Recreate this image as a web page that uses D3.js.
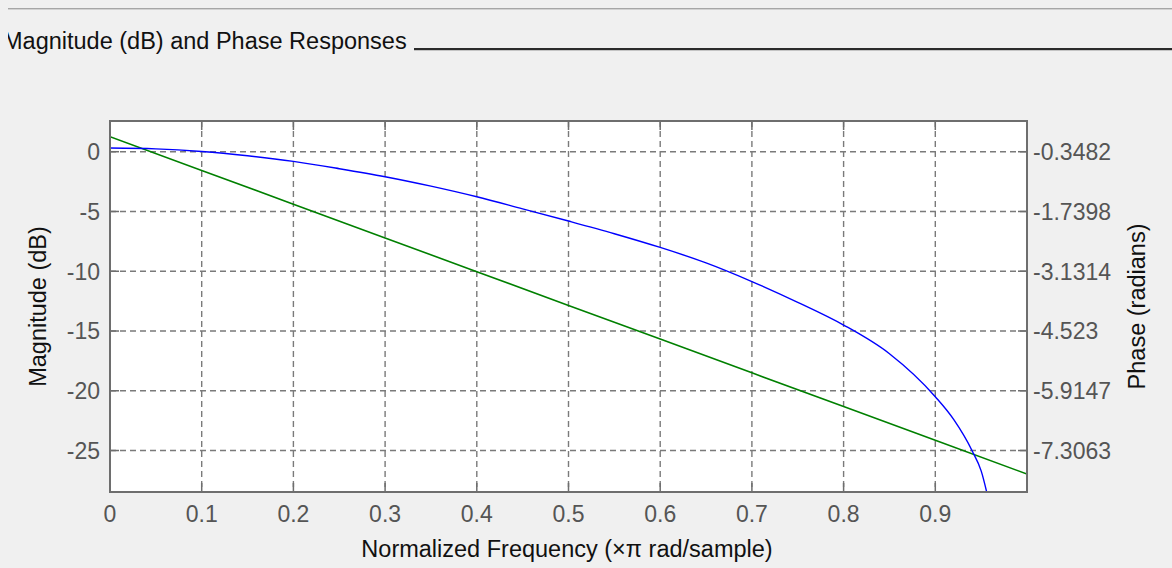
<!DOCTYPE html>
<html lang="en">
  <head>
    <meta charset="utf-8">
    <title>Magnitude (dB) and Phase Responses</title>
    <script src="https://cdn.jsdelivr.net/npm/d3@7/dist/d3.min.js"></script>
    <style>
      body { margin: 0; background: #f0f0f0; }
      text { font-family: "Liberation Sans", Arial, sans-serif; }
    </style>
  </head>
  <body>
    <script>

      // frequency points (x pi rad/sample) and magnitude in dB
      var magFreq = [0, 0.05, 0.1, 0.15, 0.2, 0.25, 0.3, 0.35, 0.4, 0.45, 0.5, 0.55, 0.6, 0.65, 0.7, 0.75, 0.8, 0.85, 0.9, 0.92, 0.94, 0.95, 0.96]
      var magDb   = [0.31, 0.24, 0.02, -0.34, -0.81, -1.42, -2.09, -2.88, -3.77, -4.78, -5.8, -6.86, -8.01, -9.3, -10.86, -12.6, -14.5, -16.9, -20.5, -22.4, -25.0, -26.7, -29.8]

      // phase in radians
      var phaseFreq = [0, 0.1, 0.2, 0.3, 0.4, 0.5, 0.6, 0.7, 0.8, 0.9, 1.0]
      var phaseRad  = [0, -0.785, -1.571, -2.356, -3.142, -3.927, -4.712, -5.498, -6.283, -7.069, -7.854]

      var freqTicks  = [0, 0.1, 0.2, 0.3, 0.4, 0.5, 0.6, 0.7, 0.8, 0.9]
      var magTicks   = [0, -5, -10, -15, -20, -25]
      var phaseTicks = [-0.3482, -1.7398, -3.1314, -4.523, -5.9147, -7.3063]

      var W = 1172, H = 568
      var pL = 110, pR = 1027, pT = 121, pB = 492

      var svg = d3.select("body").append("svg")
                  .attr("width", W)
                  .attr("height", H)

      svg.append("rect").attr("width", W).attr("height", H).attr("fill", "#f0f0f0")

      // panel frame line at the top
      svg.append("line").attr("x1", 8).attr("x2", W).attr("y1", 8.5).attr("y2", 8.5)
         .attr("stroke", "#a6a6a6").attr("stroke-width", 1)
      svg.append("line").attr("x1", 8).attr("x2", W).attr("y1", 9.5).attr("y2", 9.5)
         .attr("stroke", "#d2d2d2").attr("stroke-width", 1)

      // title, clipped on the left like the panel
      svg.append("clipPath").attr("id", "panelclip")
         .append("rect").attr("x", 8).attr("y", 0).attr("width", W).attr("height", H)
      svg.append("text")
         .attr("clip-path", "url(#panelclip)")
         .attr("x", 3).attr("y", 48.5)
         .attr("font-size", 23.5)
         .attr("fill", "#111")
         .text("Magnitude (dB) and Phase Responses")
      svg.append("line").attr("x1", 414).attr("x2", W).attr("y1", 49).attr("y2", 49)
         .attr("stroke", "#2b2b2b").attr("stroke-width", 2)
      svg.append("line").attr("x1", 414).attr("x2", W).attr("y1", 50.5).attr("y2", 50.5)
         .attr("stroke", "#c4c4c4").attr("stroke-width", 1)

      var x = d3.scaleLinear().domain([0, 1]).range([pL, pR])
      var yMag = d3.scaleLinear().domain([-28.47, 2.57]).range([pB, pT])
      var yPhase = d3.scaleLinear().domain([-8.272, 0.367]).range([pB, pT])

      svg.append("rect")
         .attr("x", pL).attr("y", pT)
         .attr("width", pR - pL).attr("height", pB - pT)
         .attr("fill", "#ffffff")

      // dashed grid
      var grid = svg.append("g").attr("stroke", "#7a7a7a").attr("stroke-width", 1.4)
                    .attr("stroke-dasharray", "6,4")
      grid.selectAll(".vg").data(freqTicks.slice(1)).enter().append("line")
          .attr("x1", function(d) { return x(d) }).attr("x2", function(d) { return x(d) })
          .attr("y1", pT).attr("y2", pB)
      grid.selectAll(".hg").data(magTicks).enter().append("line")
          .attr("y1", function(d) { return yMag(d) }).attr("y2", function(d) { return yMag(d) })
          .attr("x1", pL).attr("x2", pR)

      // inward tick marks on all four sides
      var ticks = svg.append("g").attr("stroke", "#6e6e6e").attr("stroke-width", 1.5)
      freqTicks.forEach(function(d) {
        ticks.append("line").attr("x1", x(d)).attr("x2", x(d)).attr("y1", pB).attr("y2", pB - 9)
        ticks.append("line").attr("x1", x(d)).attr("x2", x(d)).attr("y1", pT).attr("y2", pT + 9)
      })
      magTicks.forEach(function(d) {
        ticks.append("line").attr("x1", pL).attr("x2", pL + 9).attr("y1", yMag(d)).attr("y2", yMag(d))
      })
      phaseTicks.forEach(function(d) {
        ticks.append("line").attr("x1", pR).attr("x2", pR - 9).attr("y1", yPhase(d)).attr("y2", yPhase(d))
      })

      // curves
      svg.append("clipPath").attr("id", "plotclip")
         .append("rect").attr("x", pL).attr("y", pT)
         .attr("width", pR - pL).attr("height", pB - pT)

      var phaseLine = d3.line()
          .x(function(d, i) { return x(phaseFreq[i]) })
          .y(function(d) { return yPhase(d) })
      svg.append("path")
         .datum(phaseRad)
         .attr("clip-path", "url(#plotclip)")
         .attr("d", phaseLine)
         .attr("fill", "none").attr("stroke", "#008000").attr("stroke-width", 1.6)

      var magLine = d3.line()
          .x(function(d, i) { return x(magFreq[i]) })
          .y(function(d) { return yMag(d) })
          .curve(d3.curveMonotoneX)
      svg.append("path")
         .datum(magDb)
         .attr("clip-path", "url(#plotclip)")
         .attr("d", magLine)
         .attr("fill", "none").attr("stroke", "#0000ff").attr("stroke-width", 1.4)

      // box
      svg.append("rect")
         .attr("x", pL).attr("y", pT)
         .attr("width", pR - pL).attr("height", pB - pT)
         .attr("fill", "none").attr("stroke", "#6e6e6e").attr("stroke-width", 2)

      // tick labels
      var lab = svg.append("g").attr("font-size", 23).attr("fill", "#555555")
      lab.selectAll(".xl").data(freqTicks).enter().append("text")
         .attr("x", function(d) { return x(d) }).attr("y", 522)
         .attr("text-anchor", "middle")
         .text(function(d) { return d === 0 ? "0" : d3.format(".1f")(d) })
      lab.selectAll(".yl").data(magTicks).enter().append("text")
         .attr("x", 100).attr("y", function(d) { return yMag(d) }).attr("dy", "0.36em")
         .attr("text-anchor", "end")
         .text(function(d) { return d })
      lab.selectAll(".pl").data(phaseTicks).enter().append("text")
         .attr("x", 1033).attr("y", function(d) { return yPhase(d) }).attr("dy", "0.36em")
         .text(function(d) { return d })

      // axis labels
      svg.append("text")
         .attr("x", 567).attr("y", 557)
         .attr("text-anchor", "middle").attr("font-size", 23.5).attr("fill", "#111")
         .text("Normalized Frequency (\u00d7\u03c0 rad/sample)")
      svg.append("text")
         .attr("transform", "translate(46," + ((pT + pB) / 2) + ") rotate(-90)")
         .attr("text-anchor", "middle").attr("font-size", 23.5).attr("fill", "#111")
         .text("Magnitude (dB)")
      svg.append("text")
         .attr("transform", "translate(1145," + ((pT + pB) / 2) + ") rotate(-90)")
         .attr("text-anchor", "middle").attr("font-size", 23.5).attr("fill", "#111")
         .text("Phase (radians)")

    </script>
  </body>
</html>
